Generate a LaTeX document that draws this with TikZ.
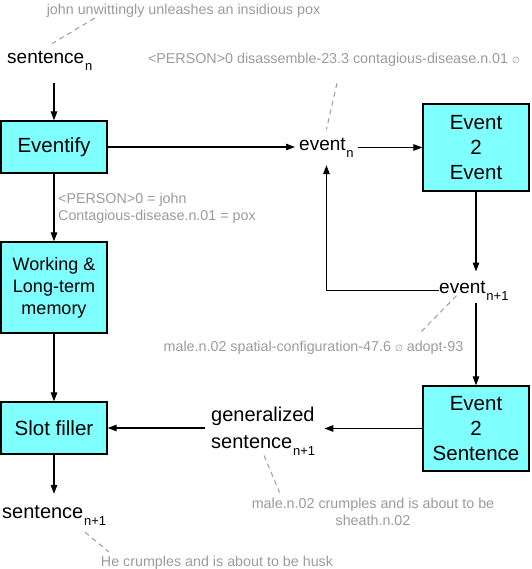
\documentclass[tikz,border=0pt]{standalone}
\usepackage{fontspec}
\setmainfont{Liberation Sans}
\newfontfamily\symfont{DejaVu Sans}
\usetikzlibrary{arrows.meta}
\definecolor{boxcyan}{RGB}{128,255,255}
\definecolor{notegray}{RGB}{155,155,155}
\newcommand\subsc[1]{\kern0.8pt\raisebox{-7pt}{\fontsize{13}{13}\selectfont #1}}
\newcommand\emptymark{{\symfont\fontsize{9}{9}\selectfont ∅}}
\begin{document}
\begin{tikzpicture}[x=1pt,y=-1pt,
 box/.style={draw=black, line width=1.3pt, fill=boxcyan, inner sep=0pt, align=center, font=\fontsize{20.5}{25}\selectfont},
 lbl/.style={inner sep=0pt, font=\fontsize{19}{24}\selectfont, anchor=base west},
 note/.style={inner sep=0pt, text=notegray, font=\fontsize{14.3}{17}\selectfont},
 arr/.style={draw=black, line width=1.2pt, -{Triangle[length=9pt,width=6.5pt]}},
 dsh/.style={draw=notegray, line width=1pt, dash pattern=on 5pt off 4pt}]
\useasboundingbox (0,0) rectangle (531,569);

% boxes
\node[box, minimum width=106pt, minimum height=52pt] (eventify) at (54,147) {Eventify};
\node[box, minimum width=106pt, minimum height=91pt, font=\fontsize{18}{22}\selectfont] (memory) at (54,287.5) {Working \&\\Long-term\\memory};
\node[box, minimum width=106pt, minimum height=52pt] (slot) at (54,428) {Slot filler};
\node[box, minimum width=106pt, minimum height=87pt] (e2e) at (476,147.5) {Event\\2\\Event};
\node[box, minimum width=106pt, minimum height=85pt] (e2s) at (476,428.5) {Event\\2\\Sentence};

% labels
\node[lbl] (sentn) at (7,64) {sentence\subsc{n}};
\node[lbl] (eventn) at (299,151) {event\subsc{n}};
\node[lbl] (eventnn) at (439,293) {event\subsc{n+1}};
\node[lbl, font=\fontsize{20}{27}\selectfont, align=left, anchor=north west] (gen) at (211,406.5) {generalized\\sentence\subsc{n+1}};
\node[lbl, font=\fontsize{20}{24}\selectfont] (sentnn) at (2,518) {sentence\subsc{n+1}};

% notes
\node[note, anchor=base] (john) at (183.5,15) {john unwittingly unleashes an insidious pox};
\node[note, anchor=base] (person) at (334,64) {<PERSON>0 disassemble-23.3 contagious-disease.n.01 \emptymark};
\node[note, anchor=north west, align=left] (binding) at (58,192.5) {<PERSON>0 = john\\Contagious-disease.n.01 = pox};
\node[note, anchor=base] (spatial) at (313.5,351) {male.n.02 spatial-configuration-47.6 \emptymark\ adopt-93};
\node[note, anchor=north, align=center] (crumple) at (373,497.5) {male.n.02 crumples and is about to be\\sheath.n.02};
\node[note, anchor=base] (husk) at (217,566) {He crumples and is about to be husk};

% arrows
\draw[arr, shorten <=12pt] (sentn.south -| eventify.north) -- (eventify.north);
\draw[arr, shorten >=4pt] (eventify.east) -- (eventify.east -| eventn.west);
\draw[arr, shorten <=4pt] (eventn.east |- e2e.west) -- (e2e.west);
\draw[arr, shorten >=9pt] (e2e.south) -- (e2e.south |- eventnn.north);
\draw[arr, shorten >=7pt] (eventnn.west) -| (eventn.south);
\draw[arr, shorten <=3pt] (eventnn.south -| e2s.north) -- (e2s.north);
\draw[arr, shorten >=9pt] (e2s.west) -- (e2s.west -| gen.east);
\draw[arr, shorten <=6pt] (gen.west |- slot.east) -- (slot.east);
\draw[arr] (eventify.south) -- (memory.north);
\draw[arr] (memory.south) -- (slot.north);
\draw[arr, shorten >=11pt] (slot.south) -- (slot.south |- sentnn.north);

% dashed note links
\draw[dsh] ([xshift=48pt]john.south west) -- ([shift={(2.5pt,8pt)}]sentn.north);
\draw[dsh] ([shift={(3pt,-16pt)}]person.south) -- ([yshift=9pt]eventn.north);
\draw[dsh] ([shift={(-42pt,9pt)}]spatial.north east) -- ([shift={(18pt,5pt)}]eventnn.south west);
\draw[dsh] ([xshift=53pt]gen.south west) -- ([shift={(28pt,5pt)}]crumple.north west);
\draw[dsh] ([shift={(83pt,-7pt)}]sentnn.south west) -- ([shift={(8pt,3.5pt)}]husk.north west);
\end{tikzpicture}
\end{document}
